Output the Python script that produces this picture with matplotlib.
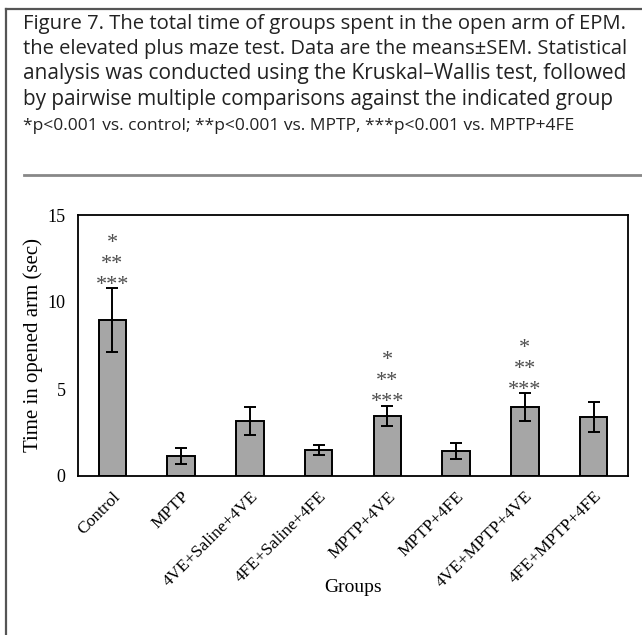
import matplotlib.pyplot as plt
import numpy as np

groups = ["Control", "MPTP", "4VE+Saline+4VE", "4FE+Saline+4FE",
          "MPTP+4VE", "MPTP+4FE", "4VE+MPTP+4VE", "4FE+MPTP+4FE"]
means = [8.95, 1.15, 3.15, 1.5, 3.47, 1.43, 3.95, 3.4]
sems = [1.85, 0.44, 0.8, 0.3, 0.58, 0.44, 0.8, 0.88]
starred = ["Control", "MPTP+4VE", "4VE+MPTP+4VE"]

caption = ["Figure 7. The total time of groups spent in the open arm of EPM.",
           "the elevated plus maze test. Data are the means\u00b1SEM. Statistical",
           "analysis was conducted using the Kruskal\u2013Wallis test, followed",
           "by pairwise multiple comparisons against the indicated group"]
footnote = "*p<0.001 vs. control; **p<0.001 vs. MPTP, ***p<0.001 vs. MPTP+4FE"

W, H = 642, 635
fig = plt.figure(figsize=(W / 100, H / 100), dpi=100)
renderer = fig.canvas.get_renderer()


def fit_text(y_px, s, width_px, size, **kw):
    # scale the font so the line spans the given pixel width
    t = fig.text(23 / W, 1 - y_px / H, s, fontsize=size, va="center",
                 ha="left", color="#222222", **kw)
    w = t.get_window_extent(renderer).width
    t.set_fontsize(size * width_px / w)
    return t


# page frame and caption
frame = dict(color="#555555", lw=1.6, transform=fig.transFigure)
fig.add_artist(plt.Line2D([6 / W, 6 / W], [0, 1 - 9 / H], **frame))
fig.add_artist(plt.Line2D([6 / W, 1], [1 - 9 / H, 1 - 9 / H], **frame))
fig.add_artist(plt.Line2D([24 / W, 1], [1 - 175 / H, 1 - 175 / H],
                          color="#888888", lw=2, transform=fig.transFigure))

line_widths = [607, 607, 607, 593]
for i, line in enumerate(caption):
    fit_text(24 + 25 * i, line, line_widths[i], 14, family="Open Sans")
fit_text(126, footnote, 550, 10, family="Open Sans")

ax = fig.add_axes([78 / W, 1 - 476 / H, 550 / W, 261 / H])
x = np.arange(len(groups))
ax.bar(x, means, width=0.4, color="#a6a6a6", edgecolor="black", lw=1.4, zorder=2)
ax.errorbar(x, means, yerr=sems, fmt="none", ecolor="black", elinewidth=1.4,
            capsize=4, capthick=1.4, zorder=3)

for g in starred:
    i = groups.index(g)
    top = means[i] + sems[i]
    for k, s in enumerate(["***", "**", "*"]):
        ax.text(i, top - 0.4 + k * 1.22, s, ha="center", va="bottom",
                family="Liberation Serif", fontsize=16, color="#4d4d4d")

ax.set_xlim(-0.5, len(groups) - 0.5)
ax.set_ylim(0, 15)
ax.set_yticks([0, 5, 10, 15])
ax.set_xticks(x)
ax.set_xticklabels(groups, rotation=45, ha="right", rotation_mode="anchor",
                   family="Liberation Serif", fontsize=12.5)
ax.tick_params(length=0, pad=9)
for lab in ax.get_yticklabels():
    lab.set_family("Liberation Serif")
    lab.set_fontsize(13)
for sp in ax.spines.values():
    sp.set_linewidth(1.3)
ax.set_ylabel("Time in opened arm (sec)", family="Liberation Serif",
              fontsize=15)
ax.yaxis.set_label_coords(-35 / 550, 0.5)
ax.set_xlabel("Groups", family="Liberation Serif", fontsize=14, va="center")
ax.xaxis.set_label_coords(275 / 550, -111 / 261)

fig.savefig("out.png", dpi=100)
